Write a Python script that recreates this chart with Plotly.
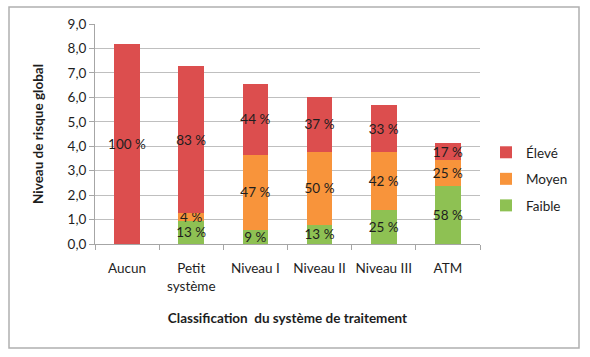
import plotly.graph_objects as go

categories = ["Aucun", "Petit<br>système", "Niveau I", "Niveau II", "Niveau III", "ATM"]
faible = [0.0, 0.95, 0.57, 0.78, 1.40, 2.39]
moyen = [0.0, 0.30, 3.08, 3.00, 2.38, 1.03]
eleve = [8.20, 6.03, 2.90, 2.25, 1.89, 0.70]
faible_pct = ["", "13 %", "9 %", "13 %", "25 %", "58 %"]
moyen_pct = ["", "4 %", "47 %", "50 %", "42 %", "25 %"]
eleve_pct = ["100 %", "83 %", "44 %", "37 %", "33 %", "17 %"]
y_ticks = [0, 1, 2, 3, 4, 5, 6, 7, 8, 9]

FONT = "Lato"
TXT = "#1e1e1e"

fig = go.Figure()
for rank, (name, vals, txt, col) in enumerate([
    ("Faible", faible, faible_pct, "#8EC153"),
    ("Moyen", moyen, moyen_pct, "#F8943B"),
    ("Élevé", eleve, eleve_pct, "#DC4E4E"),
]):
    fig.add_trace(go.Bar(
        x=categories, y=vals, name=name, legendgroup=name, legendrank=1000 - rank,
        marker=dict(color=col, line=dict(width=0)),
        text=txt, textposition="inside", insidetextanchor="middle",
        textangle=0, cliponaxis=False,
        insidetextfont=dict(family=FONT, size=13.5, color=TXT),
        hoverinfo="skip",
    ))

W, H = 590, 357
L, R, T, B = 95, 110, 24, 113
pw, ph = W - L - R, H - T - B

def px(x):
    return (x - L) / pw

def py(y):
    return (H - B - y) / ph

fig.update_layout(
    width=W, height=H, barmode="stack", bargap=0.6,
    margin=dict(l=L, r=R, t=T, b=B, autoexpand=False),
    paper_bgcolor="white", plot_bgcolor="white",
    separators=", ",
    font=dict(family=FONT, size=13, color=TXT),
    uniformtext=dict(minsize=13.5, mode="show"),
    legend=dict(x=px(486), y=py(137), xanchor="left", yanchor="top",
                traceorder="grouped", font=dict(size=13.5, color=TXT),
                itemwidth=30, tracegroupgap=6, bgcolor="rgba(0,0,0,0)"),
    xaxis=dict(showgrid=False, showline=True, linecolor="#A6A6A6", linewidth=1,
               ticks="outside", tickson="boundaries", ticklen=5, tickcolor="#A6A6A6",
               tickangle=0, automargin=False,
               ticklabelstandoff=12, tickfont=dict(size=13.5, color=TXT),
               title=dict(text="<b>Classification  du système de traitement</b>",
                          font=dict(size=13.5, color=TXT), standoff=20)),
    yaxis=dict(range=[0, 9], tickvals=y_ticks, tickformat=".1f",
               showgrid=True, gridcolor="#BFBFBF", gridwidth=1,
               showline=True, linecolor="#A6A6A6", ticks="outside", ticklen=5,
               tickcolor="#A6A6A6", tickfont=dict(size=13.5, color=TXT),
               zeroline=False, automargin=False,
               title=dict(text="<b>Niveau de risque global</b>",
                          font=dict(size=13.5, color=TXT), standoff=20)),
    shapes=[dict(type="rect", xref="paper", yref="paper",
                 x0=px(9), x1=px(579), y0=py(348), y1=py(7),
                 line=dict(color="#B0B0B0", width=1.5), layer="below")],
)

fig.write_html("out.html", config={"displayModeBar": False},
               post_script="document.body.style.margin='0';document.body.style.overflow='hidden';")
